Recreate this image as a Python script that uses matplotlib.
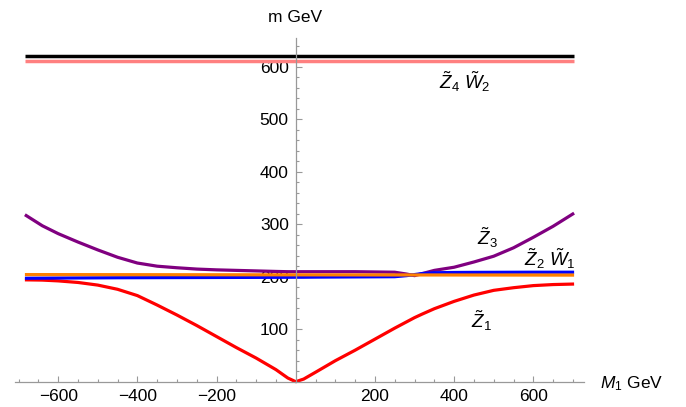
import matplotlib
matplotlib.use("Agg")
import matplotlib.pyplot as plt
import numpy as np

plt.rcParams["font.family"] = ["Liberation Sans", "DejaVu Sans"]
plt.rcParams["mathtext.fontset"] = "custom"
plt.rcParams["mathtext.rm"] = "Liberation Sans"
plt.rcParams["mathtext.it"] = "Liberation Sans:italic"

# M1 sample points (GeV)
m1 = [-684, -640, -600, -550, -500, -450, -400, -350, -300, -250, -200, -150,
      -100, -50, -20, 0, 20, 50, 100, 150, 200, 250, 280, 300, 320, 350,
      400, 450, 500, 550, 600, 650, 703]

# lightest neutralino Z1
z1 = [194, 193.5, 192, 189, 184, 176, 164, 146, 127, 107, 86, 65,
      45, 23, 7, 0, 5, 18, 40, 60, 81, 102, 114, 122, 129, 139,
      153, 165, 174, 179, 183, 185, 186]

# third neutralino Z3
z3 = [318, 297, 282, 266, 251, 237, 226, 220, 217, 214.5, 213, 212,
      211, 210, 209.5, 209.5, 209.5, 209.5, 209.5, 209.5, 209, 208.5, 205, 202, 206, 212,
      218, 228, 239, 255, 275, 296, 321]

# second neutralino Z2
z2 = [197, 197.2, 197.4, 197.6, 197.8, 198, 198.1, 198.2, 198.3, 198.4, 198.5, 198.6,
      198.7, 198.8, 198.9, 199, 199, 199.2, 199.4, 199.6, 199.8, 200, 202, 204, 206, 207.5,
      208, 208.2, 208.3, 208.4, 208.5, 208.5, 208.5]

# flat states: W1, Z4, W2
m1_ends = [-684, 703]
w1 = [204, 203]
z4 = [620, 620]
w2 = [610, 610]

fig = plt.figure(figsize=(6.86, 4.07), dpi=100)
ax = fig.add_axes([15 / 686, (407 - 381.7) / 407, 569 / 686, 343.4 / 407])

lw = 2.3
ax.plot(m1, z1, color="#ff0000", lw=lw, clip_on=False, solid_capstyle="butt")
ax.plot(m1, z3, color="#800080", lw=lw, clip_on=False, solid_capstyle="butt")
ax.plot(m1, z2, color="#0000ff", lw=lw, clip_on=False, solid_capstyle="butt")
ax.plot(m1_ends, w1, color="#ff8000", lw=lw, clip_on=False, solid_capstyle="butt")
ax.plot(m1_ends, z4, color="#000000", lw=2.5, clip_on=False, solid_capstyle="butt")
ax.plot(m1_ends, w2, color="#ff8080", lw=2.5, clip_on=False, solid_capstyle="butt")

ax.set_xlim(-709, 728)
ax.set_ylim(0, 654)

axis_col = "#999999"
for s in ("top", "right"):
    ax.spines[s].set_visible(False)
ax.spines["left"].set_position(("data", 0))
ax.spines["bottom"].set_position(("data", 0))
for s in ("left", "bottom"):
    ax.spines[s].set_color(axis_col)
    ax.spines[s].set_linewidth(0.9)

ax.set_xticks([-600, -400, -200, 200, 400, 600])
ax.set_xticks([v for v in range(-700, 701, 50) if v % 200 != 0], minor=True)
ax.set_yticks([100, 200, 300, 400, 500, 600])
ax.set_yticks([v for v in range(20, 641, 20) if v % 100 != 0], minor=True)
ax.tick_params(which="both", direction="in", color=axis_col, width=0.8)
ax.tick_params(which="major", length=4.5, labelsize=12.5)
ax.tick_params(which="minor", length=2.5)
ax.tick_params(axis="x", which="major", pad=5.5)
ax.tick_params(axis="y", which="major", pad=5)

fig.text(295 / 686, 1 - 17.5 / 407, "m GeV", ha="center", va="center", fontsize=12.5)
fig.text(600 / 686, 1 - 384 / 407, r"$M_1$ GeV", ha="left", va="center", fontsize=12.5)

lab = dict(ha="center", va="center", fontsize=13.5)
ax.text(427, 572, r"$\tilde{Z}_4\ \tilde{W}_2$", **lab)
ax.text(483, 274, r"$\tilde{Z}_3$", **lab)
ax.text(642, 234, r"$\tilde{Z}_2\ \tilde{W}_1$", **lab)
ax.text(468, 116, r"$\tilde{Z}_1$", **lab)

fig.savefig("out.png", dpi=100)
